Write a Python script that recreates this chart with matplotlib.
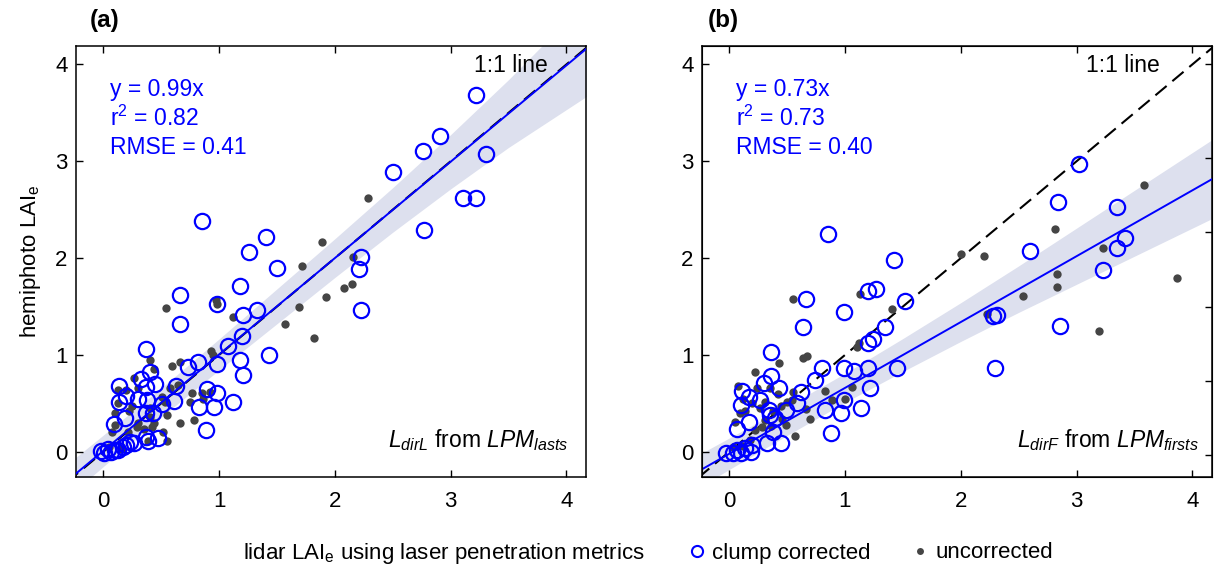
import numpy as np
import matplotlib.pyplot as plt
from matplotlib.lines import Line2D

plt.rcParams['font.family'] = ['Liberation Sans', 'DejaVu Sans']
plt.rcParams['mathtext.fontset'] = 'custom'
plt.rcParams['mathtext.rm'] = 'Liberation Sans'
plt.rcParams['mathtext.it'] = 'Liberation Sans:italic'
plt.rcParams['mathtext.bf'] = 'Liberation Sans:bold'

# ---- panel (a): L_dirL from LPM_lasts ----
a_clump_x = [3.22, 2.91, 2.76, 3.31, 2.50, 3.11, 3.22, 2.77, 2.23, 2.21, 2.23,
             0.85, 1.41, 1.26, 1.50, 1.18, 0.66, 0.98, 0.66, 1.21, 1.33, 1.20, 1.08,
             1.43, 1.18, 1.21, 0.98, 0.82, 0.73, 0.37,
             1.12, 0.96, 0.98, 0.90, 0.83, 0.89, 0.63, 0.61, 0.51, 0.40, 0.33, 0.45,
             0.37, 0.14, 0.20, 0.30, 0.38, 0.14, 0.19, 0.37, 0.43, 0.09, 0.37, 0.47,
             0.39, 0.23, 0.17, 0.13, 0.07, 0.01, -0.02, 0.04, 0.10, 0.20, 0.27]
a_clump_y = [3.68, 3.26, 3.11, 3.08, 2.89, 2.62, 2.62, 2.29, 2.01, 1.89, 1.46,
             2.38, 2.22, 2.06, 1.90, 1.71, 1.62, 1.53, 1.32, 1.41, 1.46, 1.20, 1.09,
             1.00, 0.95, 0.79, 0.91, 0.93, 0.88, 1.06,
             0.51, 0.46, 0.61, 0.65, 0.46, 0.23, 0.68, 0.53, 0.49, 0.82, 0.75, 0.70,
             0.67, 0.68, 0.58, 0.55, 0.54, 0.51, 0.35, 0.40, 0.40, 0.29, 0.15, 0.14,
             0.11, 0.10, 0.055, 0.02, 0.00, -0.01, 0.01, 0.03, 0.02, 0.07, 0.09]
a_unc_x = [2.29, 1.89, 1.72, 2.16, 2.08, 2.15, 1.92, 1.69, 1.82, 1.57, 0.54, 0.97,
           0.98, 1.12, 0.93, 0.95, 0.40, 0.59, 0.66, 0.44, 0.27, 0.65, 0.77, 0.85,
           0.92, 0.86, 0.51, 0.75, 0.78, 0.66, 0.13, 0.13, 0.10, 0.10, 0.08, 0.22,
           0.25, 0.40, 0.42, 0.35, 0.52, 0.55, 0.39, 0.30, 0.21, 0.40, 0.30, 0.20,
           0.44, 0.58, 0.53, 0.55, 0.29, 0.05, 0.15]
a_unc_y = [2.62, 2.17, 1.92, 2.01, 1.69, 1.73, 1.60, 1.50, 1.18, 1.32, 1.49, 1.57,
           1.53, 1.39, 1.04, 1.00, 0.95, 0.89, 0.93, 0.86, 0.76, 0.69, 0.61, 0.61,
           0.62, 0.55, 0.57, 0.52, 0.33, 0.30, 0.50, 0.64, 0.40, 0.28, 0.21, 0.42,
           0.47, 0.45, 0.26, 0.24, 0.21, 0.11, 0.11, 0.30, 0.21, 0.36, 0.66, 0.64,
           0.30, 0.66, 0.52, 0.38, 0.26, 0.05, 0.03]
a_slope, a_icpt = 0.995, 0.01
a_band_x = [-0.3, 0.5, 1.0, 1.5, 2.0, 2.5, 3.0, 3.5, 4.3]
a_band_half = [0.17, 0.15, 0.16, 0.18, 0.20, 0.23, 0.28, 0.35, 0.52]
a_stats = ['y = 0.99x', 'r$^2$ = 0.82', 'RMSE = 0.41']
a_method = r'$L_{dirL}$ from $LPM_{lasts}$'

# ---- panel (b): L_dirF from LPM_firsts ----
b_clump_x = [3.02, 2.84, 3.35, 3.42, 3.35, 3.23, 2.60, 2.28, 2.31, 2.86, 2.30,
             0.85, 1.42, 1.20, 1.27, 1.52, 0.66, 0.99, 0.64, 1.35, 1.20, 1.24, 1.45,
             1.20, 0.99, 1.08, 0.80, 0.74, 1.22, 0.99, 1.14, 0.83, 0.97, 0.88,
             0.36, 0.36, 0.30, 0.11, 0.43, 0.62, 0.17, 0.27, 0.10, 0.59, 0.34, 0.49,
             0.17, 0.07, 0.38, 0.40, 0.35, 0.33, 0.45, 0.20, 0.14, 0.19, 0.10, 0.03,
             -0.03, 0.07]
b_clump_y = [2.97, 2.58, 2.53, 2.21, 2.11, 1.88, 2.07, 1.40, 1.41, 1.30, 0.87,
             2.25, 1.98, 1.66, 1.68, 1.56, 1.58, 1.44, 1.29, 1.29, 1.12, 1.17, 0.87,
             0.87, 0.87, 0.84, 0.87, 0.74, 0.66, 0.54, 0.45, 0.43, 0.40, 0.19,
             1.03, 0.78, 0.71, 0.63, 0.66, 0.62, 0.57, 0.54, 0.48, 0.50, 0.43, 0.43,
             0.31, 0.24, 0.21, 0.35, 0.38, 0.09, 0.09, 0.07, 0.04, 0.00, -0.01, -0.01,
             -0.01, 0.02]
b_unc_x = [3.58, 3.87, 2.00, 2.20, 2.81, 3.23, 2.83, 2.83, 2.54, 2.23, 3.19, 0.55,
           1.13, 1.41, 1.10, 1.12, 0.64, 0.67, 0.43, 0.22, 0.83, 1.06, 1.00, 0.89,
           0.70, 0.57, 0.08, 0.05, 0.14, 0.28, 0.22, 0.31, 0.54, 0.55, 0.42, 0.31,
           0.45, 0.24, 0.35, 0.50, 0.27, 0.46, 0.49, 0.09, 0.12, 0.20, 0.38, 0.03,
           0.12, 0.18, 0.66, 0.36]
b_unc_y = [2.76, 1.79, 2.04, 2.02, 2.30, 2.11, 1.84, 1.70, 1.61, 1.42, 1.25, 1.58,
           1.63, 1.47, 1.08, 1.12, 0.97, 0.99, 0.92, 0.82, 0.63, 0.67, 0.55, 0.54,
           0.34, 0.16, 0.68, 0.31, 0.42, 0.26, 0.23, 0.33, 0.54, 0.62, 0.60, 0.52,
           0.47, 0.66, 0.66, 0.52, 0.45, 0.34, 0.28, 0.40, 0.55, 0.50, 0.42, 0.05,
           0.06, 0.12, 0.44, 0.27]
b_slope, b_icpt = 0.68, -0.02
b_band_x = [-0.3, 0.5, 1.0, 1.5, 2.0, 2.5, 3.0, 3.5, 4.3]
b_band_half = [0.17, 0.15, 0.15, 0.17, 0.20, 0.24, 0.29, 0.34, 0.42]
b_stats = ['y = 0.73x', 'r$^2$ = 0.73', 'RMSE = 0.40']
b_method = r'$L_{dirF}$ from $LPM_{firsts}$'

ticks = [0, 1, 2, 3, 4]
blue = '#0000ff'
grey = '#454545'

fig = plt.figure(figsize=(12.24, 5.72), dpi=100)
ax_a = fig.add_axes([0.0621, 0.166, 0.4167, 0.7535])
ax_b = fig.add_axes([0.5735, 0.166, 0.4167, 0.7535])


def panel(ax, cx, cy, ux, uy, slope, icpt, band_x, band_half, stats, method,
          oneone_x, method_x):
    bx = np.array(band_x)
    fit = slope * bx + icpt
    half = np.array(band_half)
    ax.fill_between(bx, fit - half, fit + half, color='#dde0ee', lw=0, zorder=1)
    ax.plot([-1, 5], [-1, 5], color='black', lw=1.5, ls=(0, (7, 3.6)), zorder=2)
    ax.plot(ux, uy, 'o', color=grey, ms=6, mew=0, zorder=3)
    ax.plot(cx, cy, 'o', mfc='none', mec=blue, ms=11, mew=1.6, zorder=4)
    xx = np.array([-1, 5])
    ax.plot(xx, slope * xx + icpt, color=blue, lw=1.4, zorder=5)

    ax.set_xlim(-0.235, 4.17)
    ax.set_ylim(-0.26, 4.19)
    ax.set_xticks(ticks)
    ax.set_yticks(ticks)
    ax.tick_params(direction='in', length=5, width=1, top=True, labelsize=16)
    ax.tick_params(axis='x', pad=10)
    ax.tick_params(axis='y', pad=6)
    for s in ax.spines.values():
        s.set_linewidth(1.1)

    for i, t in enumerate(stats):
        ax.text(0.067, 0.90 - 0.068 * i, t, transform=ax.transAxes,
                color=blue, fontsize=16.5, va='center')
    ax.text(oneone_x, 0.955, '1:1 line', transform=ax.transAxes,
            fontsize=16.5, ha='right', va='center')
    ax.text(method_x, 0.085, method, transform=ax.transAxes,
            fontsize=16.5, ha='right', va='center')


panel(ax_a, a_clump_x, a_clump_y, a_unc_x, a_unc_y, a_slope, a_icpt,
      a_band_x, a_band_half, a_stats, a_method, 0.925, 0.965)
panel(ax_b, b_clump_x, b_clump_y, b_unc_x, b_unc_y, b_slope, b_icpt,
      b_band_x, b_band_half, b_stats, b_method, 0.897, 0.975)

# panel (b) has its own set of right-hand ticks
ax_b.tick_params(right=False)
ax_b2 = ax_b.twinx()
ax_b2.set_ylim(ax_b.get_ylim())
ax_b2.set_yticks([4.0, 3.03, 2.27, 1.5, 0.73, -0.03])
ax_b2.tick_params(direction='in', length=5, width=1, labelright=False)

fig.text(90 / 1224, 1 - 20 / 572, '(a)', fontsize=17.5, fontweight='bold', va='center')
fig.text(708 / 1224, 1 - 20 / 572, '(b)', fontsize=17.5, fontweight='bold', va='center')
fig.text(31 / 1224, 1 - 261 / 572, 'hemiphoto LAI$_\\mathregular{e}$', fontsize=16,
         rotation=90, ha='center', va='center')
fig.text(243 / 1224, 1 - 553 / 572, 'lidar LAI$_\\mathregular{e}$ using laser penetration metrics',
         fontsize=16, ha='left', va='center')

handles = [
    Line2D([], [], marker='o', ls='none', mfc='none', mec=blue, ms=8, mew=1.5,
           label='clump corrected'),
    Line2D([], [], marker='o', ls='none', color=grey, ms=5, mew=0, label='uncorrected'),
]
fig.legend(handles=handles, loc='center left', bbox_to_anchor=(688 / 1224, 1 - 553 / 572),
           ncol=2, frameon=False, fontsize=16, handlelength=0.8, handletextpad=0.3,
           columnspacing=1.8, borderpad=0, borderaxespad=0)

fig.savefig('out.png', dpi=100)
